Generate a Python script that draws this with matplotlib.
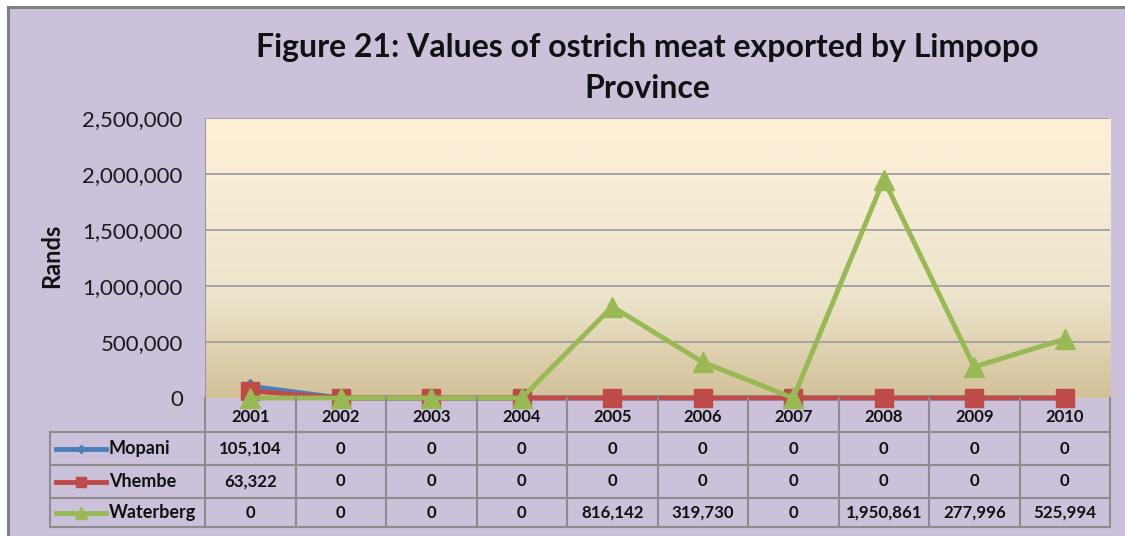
import numpy as np
import matplotlib.pyplot as plt
from matplotlib.colors import LinearSegmentedColormap
from matplotlib.patches import Rectangle

years = ['2001', '2002', '2003', '2004', '2005', '2006', '2007', '2008', '2009', '2010']
mopani = [105104, 0, 0, 0, 0, 0, 0, 0, 0, 0]
vhembe = [63322, 0, 0, 0, 0, 0, 0, 0, 0, 0]
waterberg = [0, 0, 0, 0, 816142, 319730, 0, 1950861, 277996, 525994]
series_names = ['Mopani', 'Vhembe', 'Waterberg']
series_vals = [mopani, vhembe, waterberg]
series_cols = ['#4A7EBB', '#BE4B48', '#98B954']
series_mk = ['D', 's', '^']
series_ms = [7, 13, 14]
yticks = [0, 500000, 1000000, 1500000, 2000000, 2500000]

W, H = 1125, 536
FONT = 'Lato'
bg = '#CCC1DA'
grid_c = '#9A9A9A'

def fx(px):
    return px / W

def fy(py):
    return 1 - py / H

fig = plt.figure(figsize=(W / 100, H / 100), dpi=100, facecolor='white')

# chart area with gray frame (right/bottom edges fall outside the picture)
fig.patches.append(Rectangle((fx(8), fy(545)), fx(1135) - fx(8), fy(7) - fy(545),
                             transform=fig.transFigure, fc=bg, ec='#808080', lw=2.2, zorder=-10))

# plot area
x0, x1, ytop, ybot = 205, 1110, 118, 398
ax = fig.add_axes([fx(x0), fy(ybot), fx(x1) - fx(x0), fy(ytop) - fy(ybot)])
ax.set_facecolor('none')
ax.set_xlim(-0.5, 9.5)
ax.set_ylim(0, 2500000)

cmap = LinearSegmentedColormap.from_list('g', [(0, '#D3C198'), (0.35, '#EBE3CA'), (0.7, '#F6ECD6'), (1, '#FEF0D6')])
grad = np.linspace(0, 1, 256).reshape(-1, 1)
ax.imshow(grad, cmap=cmap, aspect='auto', origin='lower',
          extent=(-0.5, 9.5, 0, 2500000), zorder=0)

for t in yticks[1:]:
    ax.axhline(t, color=grid_c, lw=1.2, zorder=1)
ax.set_yticks(yticks)
ax.set_yticklabels(['{:,}'.format(t) for t in yticks], fontsize=16, family=FONT, color='#1A1A1A')
ax.tick_params(axis='y', length=0, pad=16)
ax.set_xticks([])
for s in ['top', 'right', 'bottom']:
    ax.spines[s].set_visible(False)
ax.spines['left'].set_color(grid_c)

xs = np.arange(len(years))
for vals, c, mk, ms in zip(series_vals, series_cols, series_mk, series_ms):
    ax.plot(xs, vals, color=c, lw=3.5, marker=mk, ms=ms, mec=c, mfc=c,
            clip_on=False, zorder=3)

fig.text(fx(52), fy(256), 'Rands', rotation=90, ha='center', va='center',
         fontsize=17, family=FONT, fontweight='bold', color='#111111')

fig.text(fx(647), fy(47), 'Figure 21: Values of ostrich meat exported by Limpopo',
         ha='center', va='center', fontsize=23, family=FONT, fontweight='bold', color='#111111')
fig.text(fx(647), fy(88), 'Province', ha='center', va='center', fontsize=23,
         family=FONT, fontweight='bold', color='#111111')

# data table
tl, tb = 50, 527
rows = [398, 432, 465, 498, 527]
colw = (x1 - x0) / len(years)
tc = '#8C8C8C'

def hline(py, a, b):
    fig.add_artist(plt.Line2D([fx(a), fx(b)], [fy(py), fy(py)], color=tc, lw=1.5))

def vline(px, a, b):
    fig.add_artist(plt.Line2D([fx(px), fx(px)], [fy(a), fy(b)], color=tc, lw=1.5))

for r in rows[1:]:
    hline(r, tl, x1)
vline(tl, rows[1], tb)
for i in range(len(years) + 1):
    vline(x0 + i * colw, rows[0], tb)

for i, y in enumerate(years):
    fig.text(fx(x0 + (i + 0.5) * colw), fy((rows[0] + rows[1]) / 2 + 2), y, ha='center', va='center',
             fontsize=12, family=FONT, fontweight='bold', color='#111111')

for r, (name, vals, c, mk, ms) in enumerate(zip(series_names, series_vals, series_cols, series_mk, series_ms)):
    cy = (rows[r + 1] + rows[r + 2]) / 2
    fig.add_artist(plt.Line2D([fx(56), fx(106)], [fy(cy), fy(cy)], color=c, lw=3.5))
    fig.add_artist(plt.Line2D([fx(81)], [fy(cy)], color=c, marker=mk, ms=ms * 0.6, mec=c, mfc=c))
    fig.text(fx(109), fy(cy), name, ha='left', va='center', fontsize=13,
             family=FONT, fontweight='bold', color='#111111')
    for i, v in enumerate(vals):
        fig.text(fx(x0 + (i + 0.5) * colw), fy(cy), '{:,}'.format(v), ha='center', va='center',
                 fontsize=12.2, family=FONT, fontweight='bold', color='#111111')

fig.savefig('out.png', dpi=100, facecolor='white')
